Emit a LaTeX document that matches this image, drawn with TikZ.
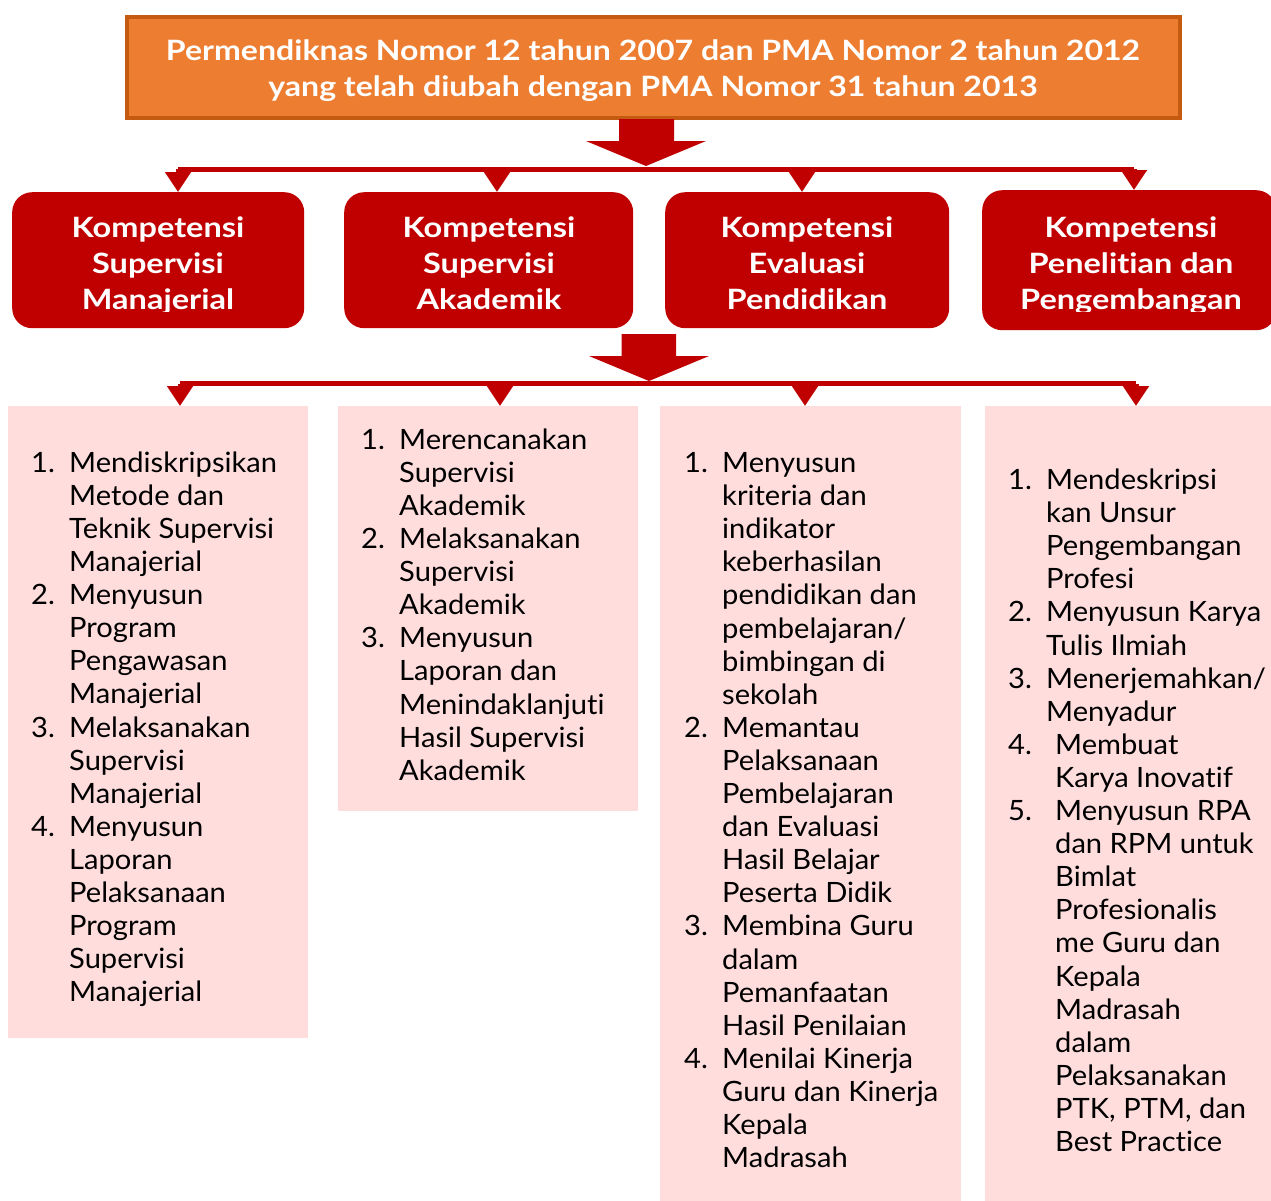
\documentclass[tikz,border=0pt]{standalone}
\usepackage{fontspec}
\setmainfont[FakeStretch=1.04, RawFeature=-liga, RawFeature=-clig, RawFeature=-dlig, RawFeature=-calt]{Lato}
\newfontfamily\headfont[FakeStretch=1.16, RawFeature=-liga, RawFeature=-clig, RawFeature=-dlig, RawFeature=-calt]{Lato}
\newfontfamily\topfont[FakeStretch=1.145, RawFeature=-liga, RawFeature=-clig, RawFeature=-dlig, RawFeature=-calt]{Lato}
\usetikzlibrary{arrows.meta}
\definecolor{orfill}{HTML}{ED7D31}
\definecolor{ordraw}{HTML}{C55A11}
\definecolor{kred}{HTML}{C00000}
\definecolor{kpink}{HTML}{FFDDDD}
\newcommand\numb[1]{\makebox[38pt][l]{#1}}
\newcommand\numc[1]{\makebox[47pt][l]{#1}}
\begin{document}
\begin{tikzpicture}[x=1pt,y=-1pt,
  hbox/.style={fill=kred, rounded corners=20pt, inner sep=0pt, anchor=north west},
  pbox/.style={fill=kpink, inner sep=0pt, anchor=north west},
  bus/.style={draw=kred, line width=5pt},
  tipline/.style={draw=kred, line width=5pt, -{Triangle[width=25pt,length=20pt]}},
  block/.style={fill=kred},
  htext/.style={text=white, inner sep=0pt, anchor=north, font=\fontsize{28}{36}\selectfont\headfont\bfseries},
  ttext/.style={text=white, inner sep=0pt, anchor=north, font=\fontsize{28}{36}\selectfont\topfont\bfseries},
  ltext/.style={text=black, inner sep=0pt, anchor=north west, font=\fontsize{28}{33.1}\selectfont},
]
\useasboundingbox (0,0) rectangle (1271,1200);
\clip (0,0) rectangle (1271,1200);

% top box
\node[draw=ordraw, fill=orfill, line width=4pt, minimum width=1053pt, minimum height=101pt, inner sep=0pt] (top) at (653,67.5) {};
\node[ttext] (toptext) at (653,34.8) {\begin{tabular}{@{}c@{}}Permendiknas Nomor 12 tahun 2007 dan PMA Nomor 2 tahun 2012\\yang telah diubah dengan PMA Nomor 31 tahun 2013\end{tabular}};

% block arrow 1
\fill[block] (619,119) -- (674,119) -- (674,141) -- (706,141) -- (646,166) -- (586,141) -- (619,141) -- cycle;

% heading boxes
\node[hbox, minimum width=292pt, minimum height=136pt] (h1) at (12,192) {};
\node[hbox, minimum width=289pt, minimum height=136pt] (h2) at (344,192) {};
\node[hbox, minimum width=284pt, minimum height=136pt] (h3) at (665,192) {};
\node[hbox, minimum width=294pt, minimum height=140pt] (h4) at (982,190) {};

% bus 1
\coordinate (a1) at (178,169);
\coordinate (a2) at (497,169);
\coordinate (a3) at (802,169);
\coordinate (a4) at (1134,169);
\draw[bus] (a1) -- (a4);
\draw[tipline] (a1) -- (a1 |- h1.north);
\draw[tipline] (a2) -- (a2 |- h2.north);
\draw[tipline] (a3) -- (a3 |- h3.north);
\draw[tipline] (a4) -- (a4 |- h4.north);

% heading texts (clipped at bottom as in the reference)
\begin{scope}
\clip (0,0) rectangle (1271,311);
\node[htext] (t1) at (158,211.8) {\begin{tabular}{@{}c@{}}Kompetensi\\Supervisi\\Manajerial\end{tabular}};
\node[htext] (t2) at (489,211.8) {\begin{tabular}{@{}c@{}}Kompetensi\\Supervisi\\Akademik\end{tabular}};
\node[htext] (t3) at (807,211.8) {\begin{tabular}{@{}c@{}}Kompetensi\\Evaluasi\\Pendidikan\end{tabular}};
\node[htext] (t4) at (1131,211.8) {\begin{tabular}{@{}c@{}}Kompetensi\\Penelitian dan\\Pengembangan\end{tabular}};
\end{scope}

% block arrow 2
\fill[block] (621.5,334) -- (676,334) -- (676,356) -- (709,356) -- (649,381) -- (589,356) -- (621.5,356) -- cycle;

% pink boxes
\node[pbox, minimum width=300pt, minimum height=632pt] (p1) at (8,406) {};
\node[pbox, minimum width=300pt, minimum height=405pt] (p2) at (338,406) {};
\node[pbox, minimum width=301pt, minimum height=800pt] (p3) at (660,406) {};
\node[pbox, minimum width=300pt, minimum height=800pt] (p4) at (985,406) {};

% bus 2
\coordinate (c1) at (180,383.5);
\coordinate (c2) at (500,383.5);
\coordinate (c3) at (805,383.5);
\coordinate (c4) at (1136,383.5);
\draw[bus] (c1) -- (c4);
\draw[tipline] (c1) -- (c1 |- p1.north);
\draw[tipline] (c2) -- (c2 |- p2.north);
\draw[tipline] (c3) -- (c3 |- p3.north);
\draw[tipline] (c4) -- (c4 |- p4.north);

% lists
\node[ltext] (l1) at (31,448.9) {\begin{tabular}{@{}l@{}}
\numb{1.}Mendiskripsikan\\ \numb{}Metode dan\\ \numb{}Teknik Supervisi\\ \numb{}Manajerial\\
\numb{2.}Menyusun\\ \numb{}Program\\ \numb{}Pengawasan\\ \numb{}Manajerial\\
\numb{3.}Melaksanakan\\ \numb{}Supervisi\\ \numb{}Manajerial\\
\numb{4.}Menyusun\\ \numb{}Laporan\\ \numb{}Pelaksanaan\\ \numb{}Program\\ \numb{}Supervisi\\ \numb{}Manajerial
\end{tabular}};

\node[ltext] (l2) at (361,425.9) {\begin{tabular}{@{}l@{}}
\numb{1.}Merencanakan\\ \numb{}Supervisi\\ \numb{}Akademik\\
\numb{2.}Melaksanakan\\ \numb{}Supervisi\\ \numb{}Akademik\\
\numb{3.}Menyusun\\ \numb{}Laporan dan\\ \numb{}Menindaklanjuti\\ \numb{}Hasil Supervisi\\ \numb{}Akademik
\end{tabular}};

\node[ltext] (l3) at (684,449.2) {\begin{tabular}{@{}l@{}}
\numb{1.}Menyusun\\ \numb{}kriteria dan\\ \numb{}indikator\\ \numb{}keberhasilan\\ \numb{}pendidikan dan\\ \numb{}pembelajaran/\\ \numb{}bimbingan di\\ \numb{}sekolah\\
\numb{2.}Memantau\\ \numb{}Pelaksanaan\\ \numb{}Pembelajaran\\ \numb{}dan Evaluasi\\ \numb{}Hasil Belajar\\ \numb{}Peserta Didik\\
\numb{3.}Membina Guru\\ \numb{}dalam\\ \numb{}Pemanfaatan\\ \numb{}Hasil Penilaian\\
\numb{4.}Menilai Kinerja\\ \numb{}Guru dan Kinerja\\ \numb{}Kepala\\ \numb{}Madrasah
\end{tabular}};

\node[ltext] (l4) at (1008,466.2) {\begin{tabular}{@{}l@{}}
\numb{1.}Mendeskripsi\\ \numb{}kan Unsur\\ \numb{}Pengembangan\\ \numb{}Profesi\\
\numb{2.}Menyusun Karya\\ \numb{}Tulis Ilmiah\\
\numb{3.}Menerjemahkan/\\ \numb{}Menyadur\\
\numc{4.}Membuat\\ \numc{}Karya Inovatif\\
\numc{5.}Menyusun RPA\\ \numc{}dan RPM untuk\\ \numc{}Bimlat\\ \numc{}Profesionalis\\ \numc{}me Guru dan\\ \numc{}Kepala\\ \numc{}Madrasah\\ \numc{}dalam\\ \numc{}Pelaksanakan\\ \numc{}PTK, PTM, dan\\ \numc{}Best Practice
\end{tabular}};
\end{tikzpicture}
\end{document}
